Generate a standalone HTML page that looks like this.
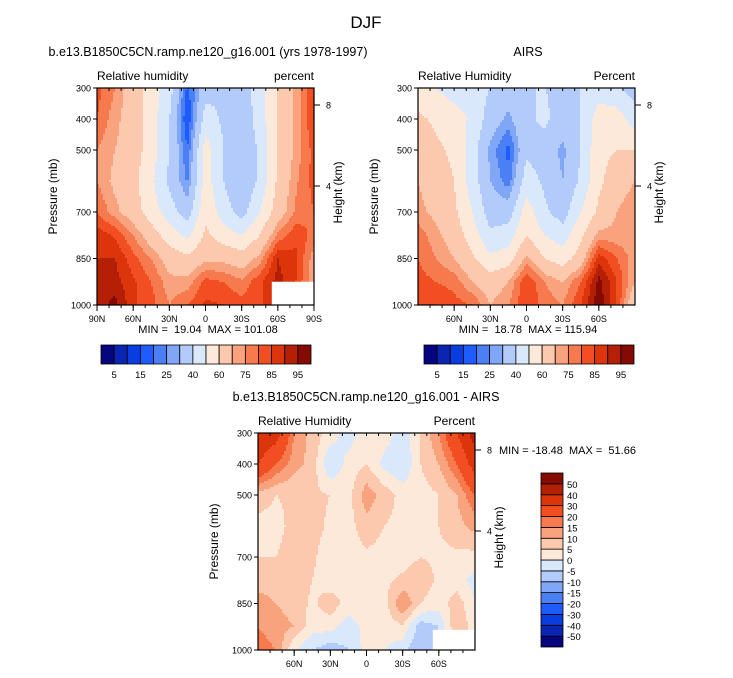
<!DOCTYPE html>
<html><head><meta charset="utf-8">
<style>
body{margin:0;background:#fff;width:733px;height:673px;overflow:hidden;font-family:"Liberation Sans",sans-serif;}
svg text{font-family:"Liberation Sans",sans-serif;fill:#000;white-space:pre;}
</style></head>
<body>
<svg id="fig" width="733" height="673" viewBox="0 0 733 673" xmlns="http://www.w3.org/2000/svg">
<text x="366" y="28" font-size="17" text-anchor="middle">DJF</text>
</svg>
<script>
const lats = [90,75,60,45,30,15,0,-15,-30,-45,-60,-75,-90];
const pres = [300,400,500,600,700,775,850,925,1000];
const modelRH = [
 [82,75,65,55,45,18,35,40,35,45,60,72,85],
 [80,72,65,55,40,15,45,38,32,45,60,72,85],
 [75,70,65,55,40,20,55,40,30,42,60,72,82],
 [75,68,63,52,38,24,55,40,30,42,62,74,82],
 [80,72,65,55,45,35,58,45,36,50,65,76,80],
 [88,84,75,65,55,48,62,55,50,60,76,84,78],
 [90,90,82,75,66,62,68,68,65,72,90,86,72],
 [94,92,86,80,72,72,82,80,76,84,92,85,70],
 [92,97,86,82,75,80,86,85,82,84,90,85,70]
];
const airsRH = [
 [55,50,45,45,40,35,40,40,38,40,45,42,35],
 [62,58,55,48,35,28,38,42,35,40,55,55,45],
 [68,62,58,45,28,18,38,35,28,40,58,60,60],
 [70,65,60,45,30,22,45,38,30,42,58,65,70],
 [72,68,62,50,35,35,55,42,35,50,62,70,75],
 [78,72,66,55,42,45,60,50,45,58,72,72,72],
 [80,75,70,62,52,55,72,60,55,65,88,80,72],
 [82,80,78,70,65,70,85,75,70,80,97,85,70],
 [85,85,82,80,70,75,85,78,75,85,99,85,60]
];
const diffRH = [
 [40,35,15,8,3,-3,3,3,-3,5,15,30,45],
 [30,20,12,8,-5,2,5,-2,-5,5,10,20,35],
 [8,5,6,6,5,3,13,8,3,3,5,10,20],
 [3,3,7,7,4,3,8,5,3,3,5,8,12],
 [5,5,8,6,2,2,4,3,3,5,4,4,3],
 [8,8,8,5,2,2,3,4,6,8,4,2,-2],
 [12,10,8,4,8,3,3,3,15,5,2,8,0],
 [15,12,10,2,2,-3,2,2,4,-8,-5,10,2],
 [18,15,0,-5,-8,-5,2,0,-3,-10,-5,5,2]
];
const rhLevels = [5,10,15,20,25,30,40,50,60,70,75,80,85,90,95];
const rhLabels = ["5","15","25","40","60","75","85","95"];
const diffLevels = [-50,-40,-30,-20,-15,-10,-5,0,5,10,15,20,30,40,50];
const diffLabels = ["-50","-40","-30","-20","-15","-10","-5","0","5","10","15","20","30","40","50"];
const colors = ["#050580","#0a25b0","#0a3de0","#1f5cff","#4b80f5","#80a6f8","#b3cbfa","#d9e8fb","#fde9da","#fcc8ae","#f9a37e","#f67a4d","#f14f22","#dc350c","#b32005","#850a03"];
const pTicks = [300,400,500,700,850,1000];
const latTicksFull = [90,60,30,0,-30,-60,-90];
const latTicksInner = [60,30,0,-30,-60];

const svg = document.getElementById('fig');
const NS = "http://www.w3.org/2000/svg";
function mk(tag, attrs, parent){const e=document.createElementNS(NS,tag);for(const k in attrs)e.setAttribute(k,attrs[k]);(parent||svg).appendChild(e);return e;}
function txt(s,x,y,size,anchor,parent){const t=mk('text',{x:x,y:y,'font-size':size,'text-anchor':anchor||'start'},parent);t.textContent=s;return t;}
function latLabel(l){return l===0?"0":(Math.abs(l)+(l>0?"N":"S"));}
function colorFor(v,levels){let i=0;while(i<levels.length&&v>=levels[i])i++;return colors[i];}
function sample(grid,lat,p){
  let fi=(90-lat)/15; let i0=Math.max(0,Math.min(Math.floor(fi),lats.length-2)); let tx=fi-i0;
  let j0=0; while(j0<pres.length-2&&p>pres[j0+1])j0++;
  let ty=(p-pres[j0])/(pres[j0+1]-pres[j0]);
  const a=grid[j0][i0],b=grid[j0][i0+1],c=grid[j0+1][i0],d=grid[j0+1][i0+1];
  return a*(1-tx)*(1-ty)+b*tx*(1-ty)+c*(1-tx)*ty+d*tx*ty;
}
function panel(opt){
  const g=mk('g',{});
  
  
  const X=opt.x,Y=opt.y,W=217,H=217;
  const xs=lat=>X+W*(90-lat)/180;
  const ys=p=>Y+H*(p-300)/700;
  const step=2;
  for(let py=0;py<H;py+=step){
    const p=300+700*(py+step/2)/H;
    const cols=[];
    for(let px=0;px<W;px+=step){const lat=90-180*(px+step/2)/W;cols.push(colorFor(sample(opt.grid,lat,p),opt.levels));}
    cols.push(null);
    let x0=0,prev=cols[0];
    for(let k=1;k<cols.length;k++){
      if(cols[k]!==prev){
        const x1=Math.min(k*step,W);
        const r=mk('rect',{x:X+x0,y:Y+py,width:x1-x0+0.4,height:Math.min(step,H-py)+0.4,fill:prev},g);
        
        
        prev=cols[k];x0=k*step;
      }
    }
  }
  if(opt.missing){mk('rect',{x:xs(opt.missing[0]),y:ys(opt.missing[1]),width:X+W-xs(opt.missing[0]),height:Y+H-ys(opt.missing[1]),fill:'#fff'},g);}
  mk('rect',{x:X,y:Y,width:W,height:H,fill:'none',stroke:'#000','stroke-width':1.2},g);
  pTicks.forEach(p=>{mk('line',{x1:X-4,x2:X,y1:ys(p),y2:ys(p),stroke:'#000'},g);
    const t=txt(String(p),X-6,ys(p)+3.5,9,'end',g);
    
    });
  for(let l=80;l>=-80;l-=10){mk('line',{x1:xs(l),x2:xs(l),y1:Y+H,y2:Y+H+3,stroke:'#000'},g);mk('line',{x1:xs(l),x2:xs(l),y1:Y,y2:Y+3,stroke:'#000'},g);}
  opt.latTicks.forEach(l=>{mk('line',{x1:xs(l),x2:xs(l),y1:Y+H,y2:Y+H+6,stroke:'#000'},g);
    const t=txt(latLabel(l),xs(l),Y+H+17,9,'middle',g);
    
    });
  [[8,17],[4,98]].forEach(h=>{mk('line',{x1:X+W,x2:X+W+6,y1:Y+h[1],y2:Y+h[1],stroke:'#000'},g);txt(String(h[0]),X+W+12,Y+h[1]+3.5,9,'start',g);});
  const yt=txt('Pressure (mb)',0,0,12,'middle',g);yt.setAttribute('transform',`translate(${X-40},${Y+H/2}) rotate(-90)`);
  
  const ht=txt('Height (km)',0,0,12,'middle',g);ht.setAttribute('transform',`translate(${X+W+28},${Y+H/2-4}) rotate(-90)`);
  
  const t1=txt(opt.title,opt.titleX,Y-32,12.5,'middle',g);
  txt(opt.leftLabel,X,Y-8,12,'start',g);
  txt(opt.rightLabel,X+W,Y-8,12,'end',g);
  const mm=txt(opt.minmax,opt.mmX,opt.mmY,11,opt.mmAnchor,g);
}
function hbar(x,y,w,h,labels,name){
  const g=mk('g',{});
  const bw=w/colors.length;
  colors.forEach((c,i)=>{const r=mk('rect',{x:x+i*bw,y:y,width:bw,height:h,fill:c,stroke:'#000','stroke-width':0.8},g);
    });
  labels.forEach((l,k)=>{txt(l,x+bw*(2*k+1),y+h+14,9.5,'middle',g);});
}
function vbar(x,y,w,h,labels,name){
  const g=mk('g',{});
  const bh=h/colors.length;
  colors.forEach((c,i)=>{const r=mk('rect',{x:x,y:y+h-(i+1)*bh,width:w,height:bh,fill:c,stroke:'#000','stroke-width':0.8},g);
    });
  labels.forEach((l,k)=>{txt(l,x+w+4,y+h-(k+1)*bh+4,9.5,'start',g);});
}
panel({name:'model-panel',x:97,y:88,grid:modelRH,levels:rhLevels,latTicks:latTicksFull,missing:[-55,925],
 title:'b.e13.B1850C5CN.ramp.ne120_g16.001 (yrs 1978-1997)',titleX:208,leftLabel:'Relative humidity',rightLabel:'percent',
 minmax:'MIN =  19.04  MAX = 101.08',mmX:208,mmY:333,mmAnchor:'middle'});
panel({name:'airs-panel',x:418,y:88,grid:airsRH,levels:rhLevels,latTicks:latTicksInner,
 title:'AIRS',titleX:528,leftLabel:'Relative Humidity',rightLabel:'Percent',
 minmax:'MIN =  18.78  MAX = 115.94',mmX:528,mmY:333,mmAnchor:'middle'});
panel({name:'difference-panel',x:258,y:433,grid:diffRH,levels:diffLevels,latTicks:latTicksInner,missing:[-55,935],
 title:'b.e13.B1850C5CN.ramp.ne120_g16.001 - AIRS',titleX:366,leftLabel:'Relative Humidity',rightLabel:'Percent',
 minmax:'MIN = -18.48  MAX =  51.66',mmX:499,mmY:454,mmAnchor:'start'});
hbar(101,345,210,19,rhLabels,'model-colorbar');
hbar(424,345,210,19,rhLabels,'airs-colorbar');
vbar(541,473,22,174,diffLabels,'difference-colorbar');
</script>
</body></html>
